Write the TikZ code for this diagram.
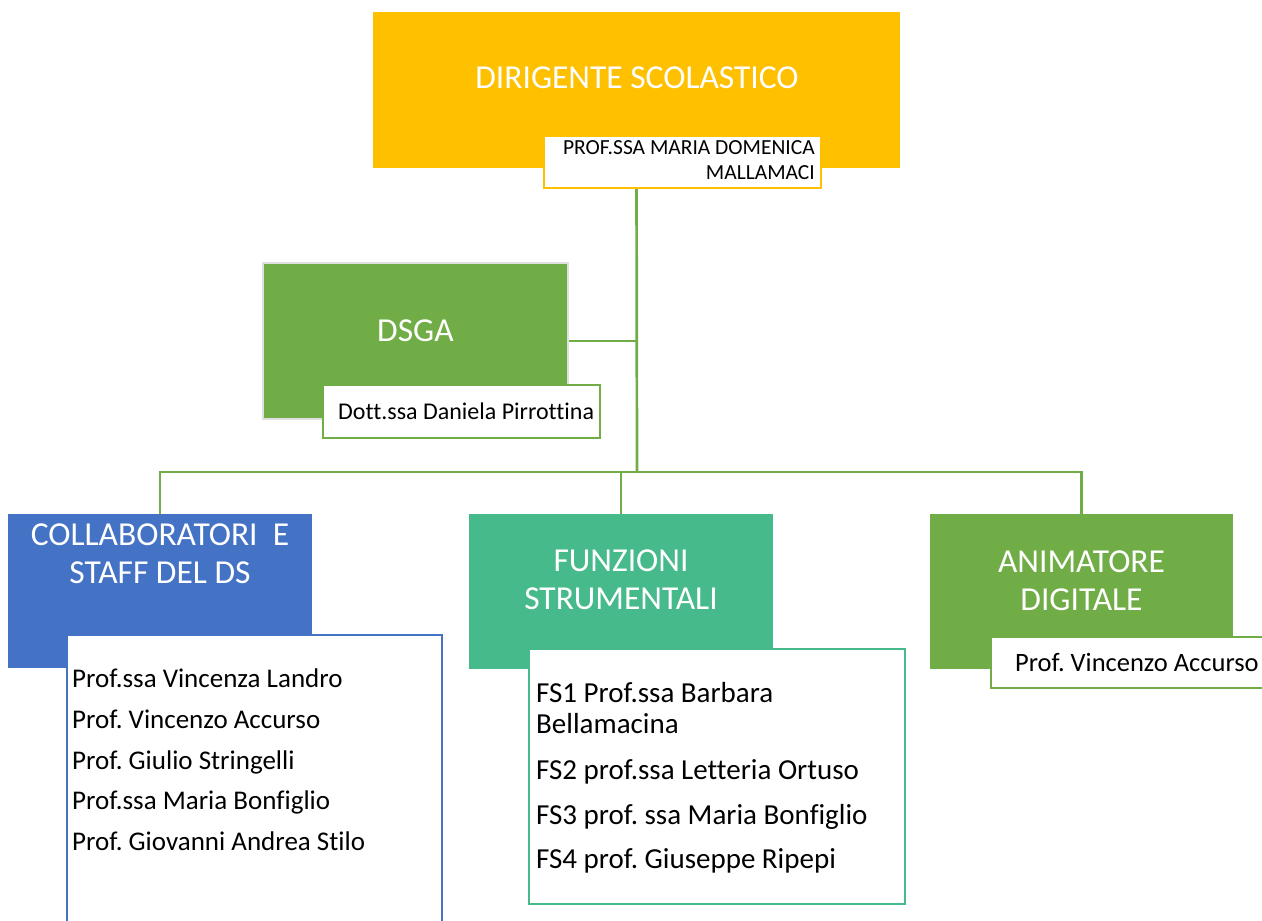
\documentclass[tikz,border=0pt]{standalone}
\usepackage{fontspec}
\setmainfont{Carlito}[Ligatures=NoCommon]
\usetikzlibrary{backgrounds}
\definecolor{dsorange}{HTML}{FFC000}
\definecolor{dsgreen}{HTML}{70AD47}
\definecolor{dsblue}{HTML}{4472C4}
\definecolor{dsteal}{HTML}{47BA8B}
\frenchspacing
\begin{document}
\begin{tikzpicture}[x=1pt,y=-1pt,
  rolebox/.style={rectangle,anchor=north west,inner sep=0pt,outer sep=0pt},
  namebox/.style={rectangle,anchor=north west,fill=white,line width=2.5pt,inner sep=0pt,outer sep=0pt},
  roletitle/.style={text=white,align=center,inner sep=0pt,font=\fontsize{33.5}{38}\selectfont},
  smallname/.style={inner sep=0pt,font=\fontsize{21.5}{25}\selectfont},
  listtext/.style={anchor=west,inner sep=0pt,text height=17.3pt,text depth=0pt,font=\fontsize{27}{32}\selectfont},
  fstext/.style={anchor=west,inner sep=0pt,text height=18.7pt,text depth=0pt,font=\fontsize{29}{34}\selectfont},
  link/.style={draw=dsgreen,line width=2.7pt}]
\useasboundingbox (0,0) rectangle (1262,921);
\clip (0,0) rectangle (1262,921);
% dirigente
\node[rolebox,fill=dsorange,minimum width=527pt,minimum height=156pt] (ds) at (373,12) {};
\node[roletitle] (dstitle) at (637,78) {DIRIGENTE SCOLASTICO};
\node[namebox,draw=dsorange,minimum width=277pt,minimum height=52pt] (dsbox) at (544,136) {};
\node[smallname,anchor=east,align=right] (dsname) at (815,160.5) {PROF.SSA MARIA DOMENICA\\MALLAMACI};
% dsga
\node[rolebox,fill=dsgreen,draw=black!12,line width=1.5pt,minimum width=305pt,minimum height=156pt] (dsga) at (263,263) {};
\node[roletitle] (dsgatitle) at (415.5,331) {DSGA};
\node[namebox,draw=dsgreen,minimum width=277pt,minimum height=53pt] (dsgabox) at (323,385) {};
\node[listtext,text height=15.4pt,font=\fontsize{24}{29}\selectfont] (dsganame) at (338,412) {Dott.ssa Daniela Pirrottina};
% collaboratori
\node[rolebox,fill=dsblue,minimum width=304pt,minimum height=154pt] (collab) at (8,514) {};
\node[roletitle] (collabtitle) at (160,554) {COLLABORATORI\ \ E\\STAFF DEL DS};
\node[namebox,draw=dsblue,minimum width=375pt,minimum height=300pt] (collabbox) at (67,635) {};
\foreach \txt [count=\i] in {Prof.ssa Vincenza Landro,Prof. Vincenzo Accurso,Prof. Giulio Stringelli,Prof.ssa Maria Bonfiglio,Prof. Giovanni Andrea Stilo}
  \node[listtext] (c\i) at (72,{679+40.7*(\i-1)}) {\txt};
% funzioni strumentali
\node[rolebox,fill=dsteal,minimum width=304pt,minimum height=155pt] (funz) at (469,514) {};
\node[roletitle] (funztitle) at (621,580) {FUNZIONI\\STRUMENTALI};
\node[namebox,draw=dsteal,minimum width=376pt,minimum height=255pt] (funzbox) at (529,649) {};
\foreach \y/\txt [count=\i] in {693/FS1 Prof.ssa Barbara,724/Bellamacina,770/FS2 prof.ssa Letteria Ortuso,815/FS3 prof. ssa Maria Bonfiglio,859/FS4 prof. Giuseppe Ripepi}
  \node[fstext] (f\i) at (536,\y) {\txt};
% animatore
\node[rolebox,fill=dsgreen,minimum width=303pt,minimum height=155pt] (anim) at (930,514) {};
\node[roletitle] (animtitle) at (1081.5,581) {ANIMATORE\\DIGITALE};
\node[namebox,draw=dsgreen,minimum width=300pt,minimum height=51pt] (animbox) at (991,637) {};
\node[listtext,text height=17pt,font=\fontsize{26.5}{32}\selectfont] (animname) at (1015,663) {Prof. Vincenzo Accurso};
% connectors
\coordinate (bus) at (637,472);
\begin{scope}[on background layer]
\draw[link] (ds.south) -- (bus);
\draw[link] (dsga.east) -- (dsga.east -| bus);
\draw[link] (collab.north) -- (collab.north |- bus) -- (anim.north |- bus) -- (anim.north);
\draw[link] (funz.north) -- (funz.north |- bus);
\end{scope}
\end{tikzpicture}
\end{document}
